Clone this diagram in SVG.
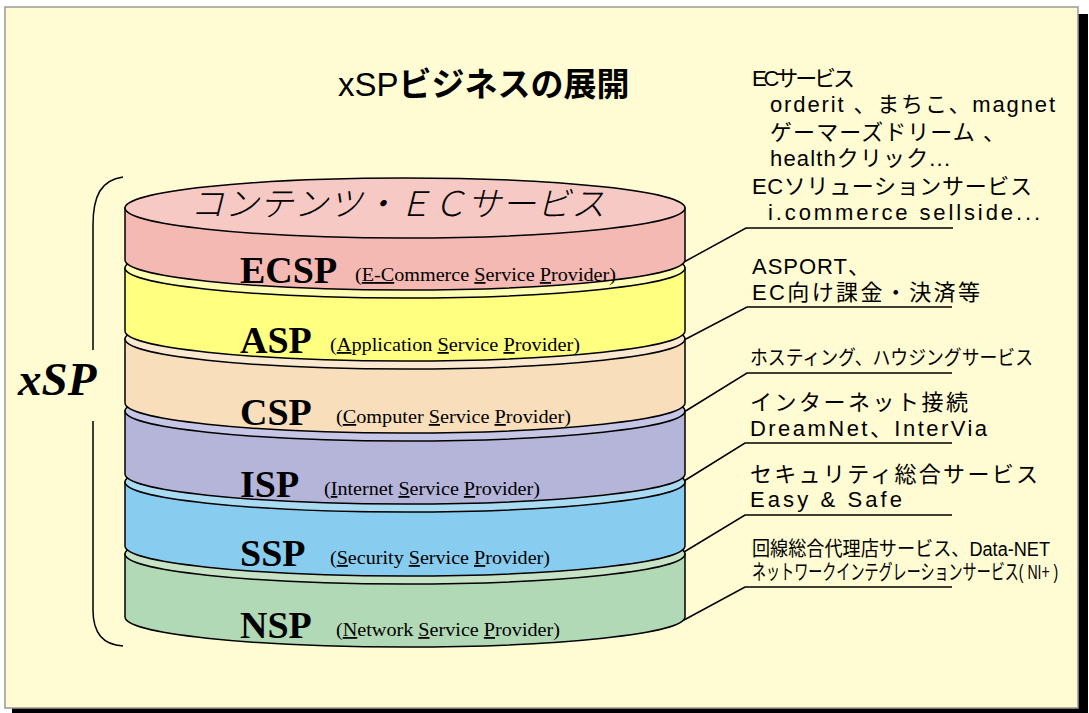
<svg xmlns="http://www.w3.org/2000/svg" width="1089" height="713" viewBox="0 0 1089 713">
<style>
.jp{font-family:"Noto Sans CJK JP","Noto Sans",sans-serif;fill:#000}
.nt{font-family:"Liberation Sans",Arial,"Noto Sans CJK JP",sans-serif;fill:#000}
.lab{font-family:"Liberation Serif","Times New Roman",serif;font-weight:bold;font-size:38px;fill:#000}
.sub{font-family:"Liberation Serif","Times New Roman",serif;font-size:18px;fill:#000}
.u{text-decoration:underline}
.edge{stroke:#000;stroke-width:1.5}
.ld{fill:none;stroke:#000;stroke-width:1.5}
</style>
<rect x="0" y="0" width="1089" height="713" fill="#fff"/>
<rect x="12" y="14" width="1076" height="702" fill="#000"/>
<rect x="5" y="7" width="1073" height="701" fill="#FFFBD2" stroke="#999" stroke-width="1.5"/>

<text class="jp" x="338" y="96" font-size="33"><tspan font-family="Liberation Sans, Arial, sans-serif">xSP</tspan><tspan font-weight="bold">ビジネスの展開</tspan></text>

<g id="bracket">
<path d="M123 177 C101 180 93 196 93 225 L93 350 M93 421 L93 610 C93 634 104 645 123 646" fill="none" stroke="#000" stroke-width="1.5"/>
<text x="18" y="395" font-family="Liberation Serif, Times New Roman, serif" font-weight="bold" font-style="italic" font-size="47">xSP</text>
</g>

<g id="nsp">
<path class="edge" d="M125 554 L125 617 A280 30 0 0 0 685 617 L685 554 Z" fill="#B1D9B5"/>
<ellipse class="edge" cx="405" cy="554" rx="280" ry="30" fill="#C6E3C6"/>
</g>
<g id="ssp">
<path class="edge" d="M125 482 L125 546 A280 30 0 0 0 685 546 L685 482 Z" fill="#88CDEF"/>
<ellipse class="edge" cx="405" cy="482" rx="280" ry="30" fill="#A9DBF3"/>
</g>
<g id="isp">
<path class="edge" d="M125 411 L125 474 A280 30 0 0 0 685 474 L685 411 Z" fill="#B5B5D9"/>
<ellipse class="edge" cx="405" cy="411" rx="280" ry="30" fill="#C6C6E6"/>
</g>
<g id="csp">
<path class="edge" d="M125 339 L125 403 A280 30 0 0 0 685 403 L685 339 Z" fill="#F8DEBA"/>
<ellipse class="edge" cx="405" cy="339" rx="280" ry="30" fill="#FBE8D0"/>
</g>
<g id="asp">
<path class="edge" d="M125 268 L125 331 A280 30 0 0 0 685 331 L685 268 Z" fill="#FFFF80"/>
<ellipse class="edge" cx="405" cy="268" rx="280" ry="30" fill="#FFFFB4"/>
</g>
<g id="ecsp">
<path class="edge" d="M125 208 L125 260 A280 30 0 0 0 685 260 L685 208 Z" fill="#F4B9B2"/>
<ellipse class="edge" cx="405" cy="208" rx="280" ry="30" fill="#F6C9C4"/>
<text class="jp" x="190" y="216" font-size="34" font-weight="300" font-style="italic" textLength="415" lengthAdjust="spacing">コンテンツ・ＥＣサービス</text>
</g>

<g id="labels">
<text class="lab" x="240" y="283">ECSP</text>
<text class="sub" x="355" y="281" textLength="261" lengthAdjust="spacingAndGlyphs">(<tspan class="u">E-C</tspan>ommerce <tspan class="u">S</tspan>ervice <tspan class="u">P</tspan>rovider)</text>
<text class="lab" x="240" y="353">ASP</text>
<text class="sub" x="330" y="351" textLength="250" lengthAdjust="spacingAndGlyphs">(<tspan class="u">A</tspan>pplication <tspan class="u">S</tspan>ervice <tspan class="u">P</tspan>rovider)</text>
<text class="lab" x="240" y="425">CSP</text>
<text class="sub" x="336" y="423" textLength="235" lengthAdjust="spacingAndGlyphs">(<tspan class="u">C</tspan>omputer <tspan class="u">S</tspan>ervice <tspan class="u">P</tspan>rovider)</text>
<text class="lab" x="240" y="497">ISP</text>
<text class="sub" x="324" y="495" textLength="216" lengthAdjust="spacingAndGlyphs">(<tspan class="u">I</tspan>nternet <tspan class="u">S</tspan>ervice <tspan class="u">P</tspan>rovider)</text>
<text class="lab" x="240" y="566">SSP</text>
<text class="sub" x="330" y="564" textLength="220" lengthAdjust="spacingAndGlyphs">(<tspan class="u">S</tspan>ecurity <tspan class="u">S</tspan>ervice <tspan class="u">P</tspan>rovider)</text>
<text class="lab" x="240" y="638">NSP</text>
<text class="sub" x="336" y="636" textLength="224" lengthAdjust="spacingAndGlyphs">(<tspan class="u">N</tspan>etwork <tspan class="u">S</tspan>ervice <tspan class="u">P</tspan>rovider)</text>
</g>

<g id="connectors">
<path class="ld" d="M684 262 L746 228 L953 228"/>
<path class="ld" d="M684 340 L747 307 L952 307"/>
<path class="ld" d="M684 412 L747 373 L952 373"/>
<path class="ld" d="M684 481 L745 443 L952 443"/>
<path class="ld" d="M684 552 L745 515 L952 515"/>
<path class="ld" d="M684 620 L745 587 L952 587"/>
</g>

<g id="notes" font-size="22">
<text class="nt" x="752" y="86" textLength="103" lengthAdjust="spacing">ECサービス</text>
<text class="nt" x="770" y="112" textLength="285" lengthAdjust="spacing">orderit 、まちこ、magnet</text>
<text class="nt" x="770" y="140" textLength="235" lengthAdjust="spacing">ゲーマーズドリーム 、</text>
<text class="nt" x="770" y="166" textLength="180" lengthAdjust="spacing">healthクリック...</text>
<text class="nt" x="752" y="194" textLength="280" lengthAdjust="spacing">ECソリューションサービス</text>
<text class="nt" x="768" y="220" textLength="272" lengthAdjust="spacing">i.commerce sellside...</text>
<text class="nt" x="752" y="274" textLength="118" lengthAdjust="spacing">ASPORT、</text>
<text class="nt" x="752" y="300" textLength="228" lengthAdjust="spacing">EC向け課金・決済等</text>
<text class="nt" x="750" y="365" font-size="20" textLength="283" lengthAdjust="spacingAndGlyphs">ホスティング、ハウジングサービス</text>
<text class="nt" x="750" y="410" textLength="218" lengthAdjust="spacing">インターネット接続</text>
<text class="nt" x="750" y="436" textLength="237" lengthAdjust="spacing">DreamNet、InterVia</text>
<text class="nt" x="750" y="482" textLength="288" lengthAdjust="spacing">セキュリティ総合サービス</text>
<text class="nt" x="750" y="507" textLength="152" lengthAdjust="spacing">Easy &amp; Safe</text>
<text class="nt" x="752" y="556" font-size="20" textLength="298" lengthAdjust="spacingAndGlyphs">回線総合代理店サービス、Data-NET</text>
<text class="nt" transform="translate(752 579) scale(0.67 1)" x="0" y="0" font-size="21">ネットワークインテグレーションサービス( NI+ )</text>
</g>
</svg>
